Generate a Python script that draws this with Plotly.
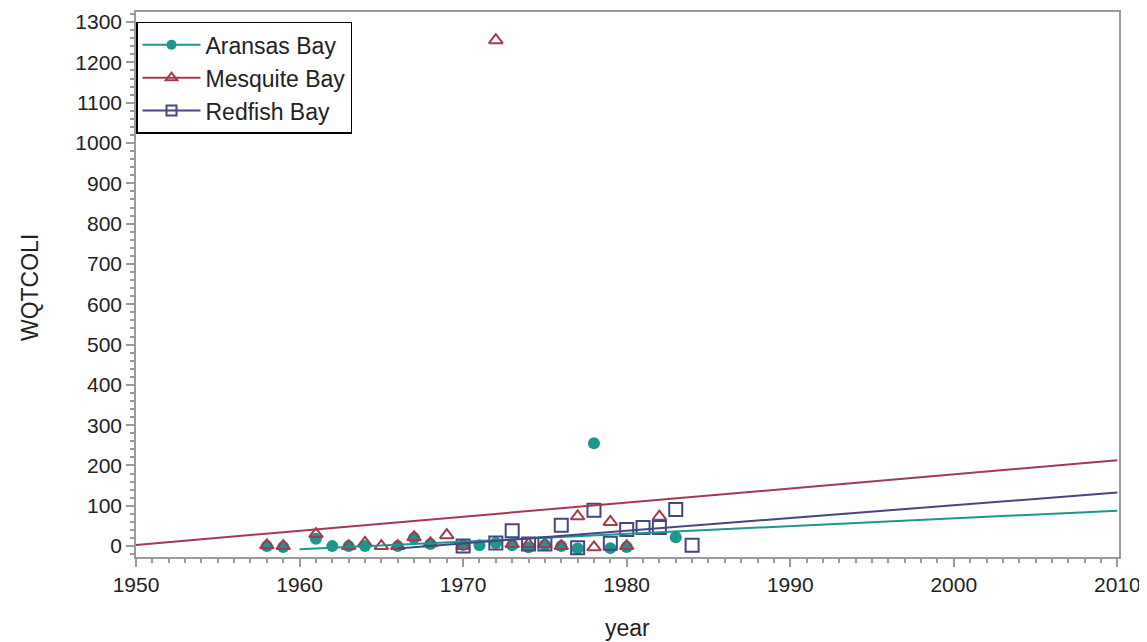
import plotly.graph_objects as go

# scatter data
aransas_year = [1958, 1959, 1961, 1962, 1963, 1964, 1966, 1967, 1968, 1970, 1971,
                1972, 1973, 1974, 1975, 1976, 1977, 1978, 1979, 1980, 1983]
aransas_val = [0, -2, 18, 0, 0, 0, 0, 20, 5, 3, 2,
               8, 2, -3, 3, 0, -6, 255, -5, -2, 22]

mesquite_year = [1958, 1959, 1961, 1963, 1964, 1965, 1966, 1967, 1968, 1969, 1970,
                 1972, 1973, 1974, 1975, 1976, 1977, 1978, 1979, 1980, 1982]
mesquite_val = [2, 0, 30, 0, 8, 0, 0, 22, 7, 27, 0,
                1255, 5, 5, 5, 0, 74, -3, 60, 0, 73]

redfish_year = [1970, 1972, 1973, 1974, 1975, 1976, 1977, 1978, 1979, 1980,
                1981, 1982, 1983, 1984]
redfish_val = [0, 8, 38, 5, 5, 52, -4, 89, 7, 41, 46, 46, 91, 2]

# fitted line end points
aransas_fit_x = [1960, 2010]
aransas_fit_y = [-8, 88]
mesquite_fit_x = [1950, 2010]
mesquite_fit_y = [3, 213]
redfish_fit_x = [1966, 2010]
redfish_fit_y = [-6, 133]

teal = "#1B978C"
red = "#A33A50"
navy = "#444780"
font = "Arial, Liberation Sans, sans-serif"

fig = go.Figure()

fig.add_trace(go.Scatter(x=aransas_year, y=aransas_val, mode="markers", showlegend=False,
                         marker=dict(symbol="circle", size=12, color=teal)))
fig.add_trace(go.Scatter(x=mesquite_year, y=mesquite_val, mode="markers", showlegend=False,
                         marker=dict(symbol="triangle-up-open", size=12, color=red,
                                     line=dict(width=2))))
fig.add_trace(go.Scatter(x=redfish_year, y=redfish_val, mode="markers", showlegend=False,
                         marker=dict(symbol="square-open", size=13, color=navy,
                                     line=dict(width=2))))

for fx, fy, c in [(aransas_fit_x, aransas_fit_y, teal),
                  (mesquite_fit_x, mesquite_fit_y, red),
                  (redfish_fit_x, redfish_fit_y, navy)]:
    fig.add_trace(go.Scatter(x=fx, y=fy, mode="lines", showlegend=False,
                             line=dict(color=c, width=2)))

# legend entries
fig.add_trace(go.Scatter(x=[None], y=[None], mode="lines+markers", name="Aransas Bay",
                         line=dict(color=teal, width=2),
                         marker=dict(symbol="circle", size=10, color=teal)))
fig.add_trace(go.Scatter(x=[None], y=[None], mode="lines+markers", name="Mesquite Bay",
                         line=dict(color=red, width=2),
                         marker=dict(symbol="triangle-up-open", size=10, color=red,
                                     line=dict(width=2))))
fig.add_trace(go.Scatter(x=[None], y=[None], mode="lines+markers", name="Redfish Bay",
                         line=dict(color=navy, width=2),
                         marker=dict(symbol="square-open", size=10, color=navy,
                                     line=dict(width=2))))

# page body adds an 8px offset, margins account for it
fig.update_layout(
    width=1147, height=642,
    margin=dict(l=128, r=36, t=4, b=93),
    paper_bgcolor="white", plot_bgcolor="white",
    font=dict(family=font, size=21, color="#222"),
    legend=dict(x=0.0, y=0.982, xanchor="left", yanchor="top",
                bgcolor="white", bordercolor="black", borderwidth=1.5,
                font=dict(size=23, color="#222"), itemwidth=58,
                tracegroupgap=0),
    annotations=[
        dict(text="year", x=0.4995, y=-0.13, xref="paper", yref="paper",
             xanchor="center", yanchor="middle", showarrow=False,
             font=dict(size=23, color="#222")),
        dict(text="WQTCOLI", x=-0.108, y=0.495, xref="paper", yref="paper",
             xanchor="center", yanchor="middle", showarrow=False, textangle=-90,
             font=dict(size=23, color="#222")),
    ],
)
fig.update_xaxes(
    range=[1950, 2010.1], tickvals=[1950, 1960, 1970, 1980, 1990, 2000, 2010],
    showgrid=False, zeroline=False, automargin=False,
    showline=True, linecolor="#9a9a9a", linewidth=1.5, mirror=True,
    ticks="outside", ticklen=8, tickcolor="#9a9a9a", tickwidth=1.5,
    minor=dict(dtick=1, ticks="outside", ticklen=4, tickcolor="#9a9a9a", showgrid=False),
)
fig.update_yaxes(
    range=[-27, 1325], tickvals=list(range(0, 1301, 100)),
    showgrid=False, zeroline=False, automargin=False,
    showline=True, linecolor="#9a9a9a", linewidth=1.5, mirror=True,
    ticks="outside", ticklen=8, tickcolor="#9a9a9a", tickwidth=1.5,
    minor=dict(dtick=20, ticks="outside", ticklen=4, tickcolor="#9a9a9a", showgrid=False),
)

fig.write_html("out.html")
